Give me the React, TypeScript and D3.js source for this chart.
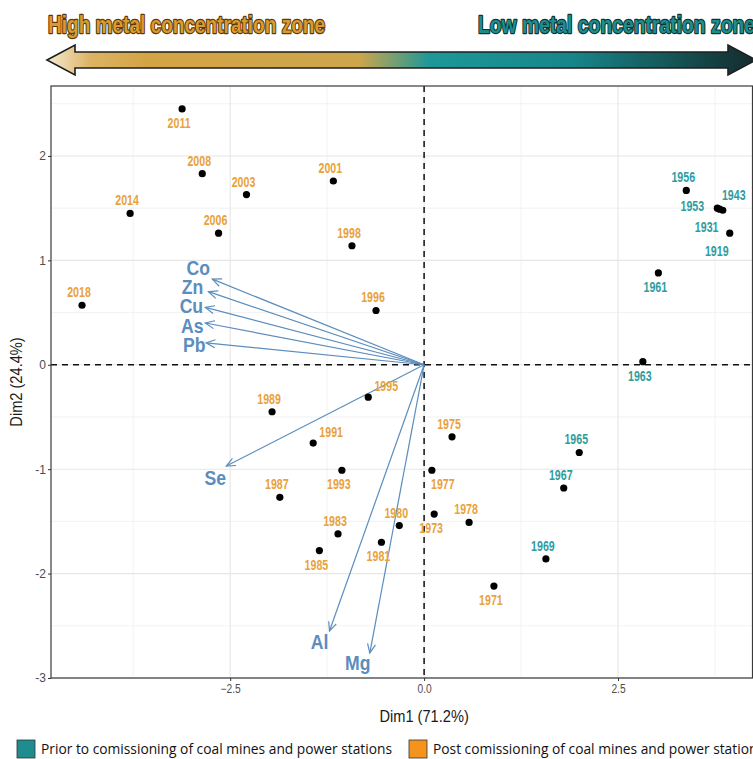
import React from 'react'
import * as d3 from 'd3'

// sample scores (PCA individuals)
const years = [
  '2011', '2008', '2003', '2001', '2014', '2006', '1998', '2018', '1996',
  '1995', '1989', '1991', '1993', '1987', '1983', '1985', '1981', '1980',
  '1975', '1977', '1973', '1978', '1971',
  '1956', '1953', '1943', '1931', '1919', '1961', '1963', '1965', '1967', '1969',
]
const dim1 = [
  -3.12, -2.86, -2.29, -1.17, -3.79, -2.65, -0.93, -4.41, -0.62,
  -0.72, -1.96, -1.43, -1.06, -1.86, -1.11, -1.35, -0.55, -0.32,
  0.36, 0.1, 0.13, 0.58, 0.9,
  3.38, 3.78, 3.85, 3.81, 3.94, 3.02, 2.82, 2.0, 1.8, 1.57,
]
const dim2 = [
  2.45, 1.83, 1.63, 1.76, 1.45, 1.26, 1.14, 0.57, 0.52,
  -0.31, -0.45, -0.75, -1.01, -1.27, -1.62, -1.78, -1.7, -1.54,
  -0.69, -1.01, -1.43, -1.51, -2.12,
  1.67, 1.5, 1.48, 1.49, 1.26, 0.88, 0.03, -0.84, -1.18, -1.86,
]
const period = [
  'post', 'post', 'post', 'post', 'post', 'post', 'post', 'post', 'post',
  'post', 'post', 'post', 'post', 'post', 'post', 'post', 'post', 'post',
  'post', 'post', 'post', 'post', 'post',
  'prior', 'prior', 'prior', 'prior', 'prior', 'prior', 'prior', 'prior', 'prior', 'prior',
]

// variable loadings (arrows)
const varNames = ['Co', 'Zn', 'Cu', 'As', 'Pb', 'Se', 'Al', 'Mg']
const varDim1 = [-2.73, -2.78, -2.82, -2.82, -2.81, -2.55, -1.22, -0.7]
const varDim2 = [0.82, 0.7, 0.55, 0.4, 0.21, -0.97, -2.55, -2.76]

const xTicks = [-2.5, 0, 2.5]
const yTicks = [-3, -2, -1, 0, 1, 2]
const xMinor = [-3.75, -1.25, 1.25, 3.75]
const yMinor = [-2.5, -1.5, -0.5, 0.5, 1.5, 2.5]

const legendLabels = [
  'Prior to comissioning of coal mines and power stations',
  'Post comissioning of coal mines and power stations',
]

// label placement around each dot (layout only)
const labelSide: Record<string, string> = {
  '2011': 'below', '1993': 'below', '1985': 'below', '1981': 'below',
  '1971': 'below', '1961': 'below', '1963': 'below', '1973': 'below',
  '1995': 'upright', '1991': 'upright', '1943': 'upnear',
  '1977': 'downright', '1953': 'left', '1931': 'downleft', '1919': 'downleft',
}
const sideOffset: Record<string, [number, number]> = {
  above: [-3, -13],
  below: [-3, 14],
  upright: [18, -11],
  upnear: [11, -15],
  downright: [11, 14],
  left: [-25, -2],
  downleft: [-13, 18],
}
const varNudge: Record<string, [number, number]> = {
  Co: [-14, -11], Zn: [-16, -5], Cu: [-14, -1], As: [-13, 3],
  Pb: [-12, 2], Se: [-11, 12], Al: [-10, 11], Mg: [-12, 10],
}

const SANS = "'Liberation Sans', Arial, sans-serif"
const colors: Record<string, string> = { post: '#E9A23B', prior: '#2E9DA0' }
const arrowColor = '#5B8DBE'

// squeeze a text horizontally to mimic a narrow face
function narrow(sel: any, factor: number) {
  sel.each(function (this: SVGTextElement) {
    const len = this.getComputedTextLength()
    d3.select(this).attr('textLength', len * factor).attr('lengthAdjust', 'spacingAndGlyphs')
  })
}

function App() {
  const svgRef = React.useRef<SVGSVGElement>(null)

  React.useEffect(() => {
    const svg = d3.select(svgRef.current)
    svg.selectAll('*').remove()

    const left = 51
    const right = 752.5
    const top = 86
    const bottom = 678

    const x = d3.scaleLinear().domain([-4.81, 4.24]).range([left, 753])
    const y = d3.scaleLinear().domain([-3, 2.67]).range([bottom, top])

    const defs = svg.append('defs')
    const grad = defs
      .append('linearGradient')
      .attr('id', 'zoneGrad')
      .attr('x1', '0%')
      .attr('x2', '100%')
    ;[
      [0, '#F4EAD4'],
      [0.06, '#DDB465'],
      [0.14, '#D4A444'],
      [0.44, '#CDA64C'],
      [0.54, '#1D9898'],
      [0.74, '#17868A'],
      [1, '#142B2C'],
    ].forEach(([o, c]) => grad.append('stop').attr('offset', o as number).attr('stop-color', c as string))

    defs
      .append('marker')
      .attr('id', 'vhead')
      .attr('viewBox', '-10 -6 12 12')
      .attr('markerWidth', 12)
      .attr('markerHeight', 12)
      .attr('markerUnits', 'userSpaceOnUse')
      .attr('refX', 0)
      .attr('refY', 0)
      .attr('orient', 'auto')
      .append('path')
      .attr('d', 'M-9,-4L0,0L-9,4')
      .attr('fill', 'none')
      .attr('stroke', arrowColor)
      .attr('stroke-width', 1.2)

    // header arrow
    const ay = 60
    const body = 8
    const head = 15
    const tipL = 47
    const tipR = 756
    const hl = 28
    svg
      .append('path')
      .attr(
        'd',
        `M${tipL},${ay}L${tipL + hl},${ay - head}L${tipL + hl},${ay - body}L${tipR - hl},${ay - body}` +
          `L${tipR - hl},${ay - head}L${tipR},${ay}L${tipR - hl},${ay + head}L${tipR - hl},${ay + body}` +
          `L${tipL + hl},${ay + body}L${tipL + hl},${ay + head}Z`
      )
      .attr('fill', 'url(#zoneGrad)')
      .attr('stroke', '#1e1e1e')
      .attr('stroke-width', 1.6)
      .attr('stroke-linejoin', 'miter')

    const headTxt = (t: string, x0: number, fill: string, stroke: string) =>
      svg
        .append('text')
        .attr('x', x0)
        .attr('y', 33)
        .attr('font-family', SANS)
        .attr('font-weight', 'bold')
        .attr('font-size', 24)
        .attr('textLength', 277)
        .attr('lengthAdjust', 'spacingAndGlyphs')
        .attr('fill', fill)
        .attr('stroke', stroke)
        .attr('stroke-width', 2.4)
        .attr('paint-order', 'stroke')
        .attr('stroke-linejoin', 'round')
        .text(t)
    headTxt('High metal concentration zone', 48, '#DB9A2E', '#5A3A0C')
    headTxt('Low metal concentration zone', 478, '#1C8E8E', '#0E3434')

    // grid
    const g = svg.append('g')
    xMinor.forEach((v) =>
      g.append('line').attr('x1', x(v)).attr('x2', x(v)).attr('y1', top).attr('y2', bottom)
        .attr('stroke', '#EDEDED').attr('stroke-width', 0.7)
    )
    yMinor.forEach((v) =>
      g.append('line').attr('x1', left).attr('x2', right).attr('y1', y(v)).attr('y2', y(v))
        .attr('stroke', '#EDEDED').attr('stroke-width', 0.7)
    )
    xTicks.forEach((v) =>
      g.append('line').attr('x1', x(v)).attr('x2', x(v)).attr('y1', top).attr('y2', bottom)
        .attr('stroke', '#E6E6E6').attr('stroke-width', 1.1)
    )
    yTicks.forEach((v) =>
      g.append('line').attr('x1', left).attr('x2', right).attr('y1', y(v)).attr('y2', y(v))
        .attr('stroke', '#E6E6E6').attr('stroke-width', 1.1)
    )

    // zero lines
    svg.append('line').attr('x1', left).attr('x2', right).attr('y1', y(0)).attr('y2', y(0))
      .attr('stroke', '#111').attr('stroke-width', 1.5).attr('stroke-dasharray', '6,5')
    svg.append('line').attr('x1', x(0)).attr('x2', x(0)).attr('y1', top).attr('y2', bottom)
      .attr('stroke', '#111').attr('stroke-width', 1.5).attr('stroke-dasharray', '6,5')

    // variable arrows
    varNames.forEach((n, i) => {
      svg
        .append('line')
        .attr('x1', x(0))
        .attr('y1', y(0))
        .attr('x2', x(varDim1[i]))
        .attr('y2', y(varDim2[i]))
        .attr('stroke', arrowColor)
        .attr('stroke-width', 1.2)
        .attr('marker-end', 'url(#vhead)')
      const [dx, dy] = varNudge[n]
      const t = svg
        .append('text')
        .attr('x', x(varDim1[i]) + dx)
        .attr('y', y(varDim2[i]) + dy)
        .attr('text-anchor', 'middle')
        .attr('dominant-baseline', 'central')
        .attr('font-family', SANS)
        .attr('font-weight', 'bold')
        .attr('font-size', 20)
        .attr('fill', arrowColor)
        .text(n)
      narrow(t, 0.88)
    })

    // points
    svg
      .selectAll('.dot')
      .data(years)
      .enter()
      .append('circle')
      .attr('cx', (d, i) => x(dim1[i]))
      .attr('cy', (d, i) => y(dim2[i]))
      .attr('r', 3.6)
      .attr('fill', '#000')

    const labs = svg
      .selectAll('.lab')
      .data(years)
      .enter()
      .append('text')
      .attr('x', (d, i) => x(dim1[i]) + sideOffset[labelSide[d] || 'above'][0])
      .attr('y', (d, i) => y(dim2[i]) + sideOffset[labelSide[d] || 'above'][1])
      .attr('text-anchor', 'middle')
      .attr('dominant-baseline', 'central')
      .attr('font-family', SANS)
      .attr('font-weight', 'bold')
      .attr('font-size', 14)
      .attr('fill', (d, i) => colors[period[i]])
      .text((d) => d)
    narrow(labs, 0.76)

    // border
    svg.append('rect').attr('x', left).attr('y', top).attr('width', right - left).attr('height', bottom - top)
      .attr('fill', 'none').attr('stroke', '#3a3a3a').attr('stroke-width', 1.2)

    // axes
    const yAxis = svg
      .append('g')
      .attr('transform', `translate(${left},0)`)
      .call(d3.axisLeft(y).tickValues(yTicks).tickSize(3).tickPadding(2).tickFormat((d) => String(d)))
    yAxis.select('.domain').remove()
    yAxis.selectAll('line').attr('stroke', '#333')
    yAxis.selectAll('text').attr('font-family', SANS).attr('font-size', 12).attr('fill', '#4D4D4D')

    const xAxis = svg
      .append('g')
      .attr('transform', `translate(0,${bottom})`)
      .call(d3.axisBottom(x).tickValues(xTicks).tickSize(3).tickPadding(3).tickFormat(d3.format('.1f')))
    xAxis.select('.domain').remove()
    xAxis.selectAll('line').attr('stroke', '#333')
    xAxis.selectAll('text').attr('font-family', SANS).attr('font-size', 12).attr('fill', '#4D4D4D')
    narrow(xAxis.selectAll('text'), 0.85)

    const xt = svg.append('text').attr('x', x(0)).attr('y', 722).attr('text-anchor', 'middle')
      .attr('font-family', SANS).attr('font-size', 17).attr('fill', '#1a1a1a').text('Dim1 (71.2%)')
    narrow(xt, 0.86)
    const yt = svg.append('text').attr('transform', `translate(22,${(top + bottom) / 2}) rotate(-90)`)
      .attr('text-anchor', 'middle').attr('font-family', SANS).attr('font-size', 17)
      .attr('fill', '#1a1a1a').text('Dim2 (24.4%)')
    narrow(yt, 0.86)

    // legend
    const legFill = ['#1F8D90', '#F5931F']
    const legX = [17, 409]
    const legTexts: SVGTextElement[] = []
    legendLabels.forEach((t, i) => {
      svg.append('rect').attr('x', legX[i]).attr('y', 740).attr('width', 18).attr('height', 18)
        .attr('fill', legFill[i]).attr('stroke', '#333').attr('stroke-width', 0.8)
      const txt = svg.append('text').attr('x', legX[i] + 24).attr('y', 754)
        .attr('font-family', "'Open Sans', 'Noto Sans', sans-serif")
        .attr('font-size', 15).attr('fill', '#111').text(t)
      legTexts.push(txt.node() as SVGTextElement)
    })
    const k = 351 / legTexts[0].getComputedTextLength()
    legTexts.forEach((el) => {
      d3.select(el).attr('textLength', el.getComputedTextLength() * k).attr('lengthAdjust', 'spacingAndGlyphs')
    })
  }, [])

  return (
    <svg
      ref={svgRef}
      width={753}
      height={759}
      style={{ position: 'absolute', left: 0, top: 0, background: '#fff' }}
    ></svg>
  )
}

export default App
